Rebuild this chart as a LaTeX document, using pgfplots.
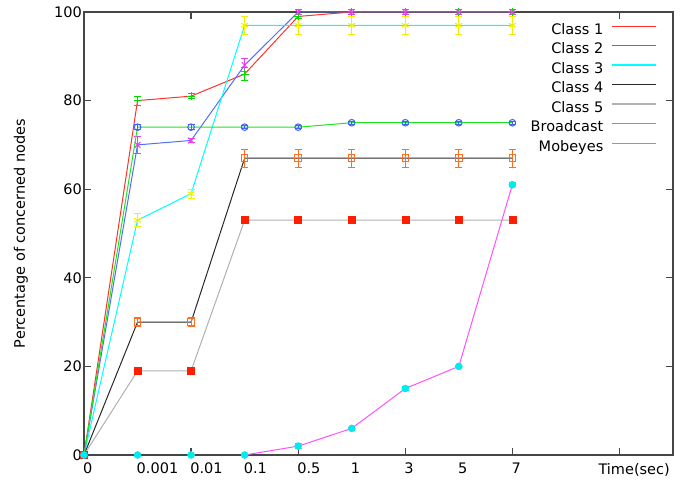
\documentclass[border=0pt]{standalone}
\usepackage{pgfplots}
\pgfplotsset{compat=1.18}
\usepackage{fontspec}
\setmainfont{DejaVu Sans}
\definecolor{cOne}{RGB}{255,50,40}
\definecolor{cTwo}{RGB}{80,110,255}
\definecolor{cThree}{RGB}{0,255,255}
\definecolor{cFour}{RGB}{40,40,40}
\definecolor{cFive}{RGB}{176,176,176}
\definecolor{cBc}{RGB}{30,230,30}
\definecolor{cMob}{RGB}{255,80,255}
\definecolor{mGreen}{RGB}{0,220,0}
\definecolor{mMag}{RGB}{240,60,240}
\definecolor{mYel}{RGB}{240,240,0}
\definecolor{mOrange}{RGB}{255,110,30}
\definecolor{mRed}{RGB}{255,30,0}
\definecolor{mBlue}{RGB}{64,96,255}
\definecolor{mCyan}{RGB}{0,235,235}
\definecolor{axcol}{RGB}{70,70,70}
\begin{document}
\begin{tikzpicture}[font=\fontsize{14.5}{17}\selectfont]
\useasboundingbox (0pt,0pt) rectangle (689pt,481pt);
\begin{axis}[
  at={(84pt,26pt)}, anchor=south west,
  width=589pt, height=443pt, scale only axis,
  xmin=0, xmax=11, ymin=0, ymax=100,
  clip=false,
  axis line style={axcol, line width=1.2pt},
  tick style={axcol, line width=1.2pt},
  tick align=inside,
  major tick length=7pt,
  xtick={0,2,4,6,8,10},
  xticklabels={,,,,,},
  extra x ticks={0,1,2,3,4,5,6,7,8},
  extra x tick labels={0,0.001,0.01,0.1,0.5,1,3,5,7},
  extra x tick style={major tick length=0pt},
  xticklabel style={anchor=north west, inner sep=0pt, xshift=-1pt, yshift=-8pt},
  ytick={0,20,40,60,80,100},
  yticklabel style={anchor=east, inner sep=0pt, xshift=-2pt},
  /pgf/number format/assume math mode=true,
  xlabel={Time(sec)},
  xlabel style={at={(axis description cs:0.934,0)}, anchor=north, inner sep=0pt, yshift=-8pt},
  ylabel={Percentage of concerned nodes},
  ylabel style={at={(axis description cs:-0.107,0.5)}, rotate=0, anchor=center},
  legend style={at={(axis description cs:1,1)}, anchor=north east, xshift=-16pt, yshift=-8.6pt,
    draw=none, fill=none, inner sep=0pt, row sep=0pt, column sep=8pt,
    cells={anchor=east},
    nodes={inner xsep=0pt, inner ysep=2.5pt, text height=11pt, text depth=3.5pt}},
  legend cell align=right,
  legend plot pos=right,
  legend image code/.code={\draw[#1] (0pt,4.5pt) -- (44pt,4.5pt);},
  error bars/error mark=|,
]
% Class 1
\addplot[forget plot, cOne, line width=1pt, mark=+, mark size=4pt, mark options={mGreen, solid, line width=1pt},
  error bars/.cd, y dir=both, y explicit, error bar style={mGreen, line width=1pt},
  error mark options={mGreen, mark size=3.5pt, line width=1pt}]
  table[x=x, y=y, y error=e] {
x y e
0 0 0
1 80 1
2 81 0.5
3 86 1.5
4 99 0.5
5 100 0.5
6 100 0.5
7 100 0.5
8 100 0.5
};
% Class 2
\addplot[forget plot, cTwo, line width=1pt, mark=x, mark size=4pt, mark options={mMag, solid, line width=1pt},
  error bars/.cd, y dir=both, y explicit, error bar style={mMag, line width=1pt},
  error mark options={mMag, mark size=3.5pt, line width=1pt}]
  table[x=x, y=y, y error=e] {
x y e
0 0 0
1 70 2
2 71 0.5
3 88 1.5
4 100 0.5
5 100 0.5
6 100 0.5
7 100 0.5
8 100 0.5
};
% Class 3
\addplot[forget plot, cThree, line width=1pt, mark=asterisk, mark size=4pt, mark options={mYel, solid, line width=1pt},
  error bars/.cd, y dir=both, y explicit, error bar style={mYel, line width=1pt},
  error mark options={mYel, mark size=3.5pt, line width=1pt}]
  table[x=x, y=y, y error=e] {
x y e
0 0 0
1 53 1.5
2 59 1
3 97 2
4 97 2
5 97 2
6 97 2
7 97 2
8 97 2
};
% Class 4
\addplot[forget plot, cFour, line width=1pt, mark=square, mark size=3.2pt, mark options={mOrange, solid, line width=1pt},
  error bars/.cd, y dir=both, y explicit, error bar style={mOrange, line width=1pt},
  error mark options={mOrange, mark size=3.5pt, line width=1pt}]
  table[x=x, y=y, y error=e] {
x y e
0 0 0
1 30 1
2 30 1
3 67 2
4 67 2
5 67 2
6 67 2
7 67 2
8 67 2
};
% Class 5
\addplot[forget plot, cFive, line width=1pt, mark=square*, mark size=3.5pt, mark options={mRed, fill=mRed, solid, line width=0.5pt},
  error bars/.cd, y dir=both, y explicit, error bar style={mRed, line width=1pt},
  error mark options={mRed, mark size=3.5pt, line width=1pt}]
  table[x=x, y=y, y error=e] {
x y e
0 0 0
1 19 0.5
2 19 0.5
3 53 0.5
4 53 0.5
5 53 0.5
6 53 0.5
7 53 0.5
8 53 0.5
};
% Broadcast
\addplot[forget plot, cBc, line width=1pt, mark=o, mark size=3.3pt, mark options={mBlue, solid, line width=1pt},
  error bars/.cd, y dir=both, y explicit, error bar style={mBlue, line width=1pt},
  error mark options={mBlue, mark size=3.5pt, line width=1pt}]
  table[x=x, y=y, y error=e] {
x y e
0 0 0
1 74 0.5
2 74 0.5
3 74 0.3
4 74 0.3
5 75 0.3
6 75 0.3
7 75 0.3
8 75 0.3
};
% Mobeyes: points at 0, 0.001, 0.01 (line there lies on the axis)
\addplot[forget plot, only marks, mark=*, mark size=3.5pt, mark options={mCyan, fill=mCyan, draw=mCyan, solid, line width=0.5pt}]
  table[x=x, y=y] {
x y
0 0
1 0
2 0
};
\addplot[forget plot, cMob, line width=1pt, mark=*, mark size=3.5pt, mark options={mCyan, fill=mCyan, draw=mCyan, solid, line width=0.5pt},
  error bars/.cd, y dir=both, y explicit, error bar style={mCyan, line width=1pt},
  error mark options={mCyan, mark size=3.5pt, line width=1pt}]
  table[x=x, y=y, y error=e] {
x y e
3 0 0
4 2 0.5
5 6 0.3
6 15 0.5
7 20 0.3
8 61 0.5
};
\addlegendimage{cOne, line width=1pt}\addlegendentry{Class 1}
\addlegendimage{cTwo, line width=1.5pt}\addlegendentry{Class 2}
\addlegendimage{cThree, line width=1.2pt}\addlegendentry{Class 3}
\addlegendimage{cFour, line width=1pt}\addlegendentry{Class 4}
\addlegendimage{cFive, line width=1.5pt}\addlegendentry{Class 5}
\addlegendimage{cBc, line width=1pt}\addlegendentry{Broadcast}
\addlegendimage{cMob, line width=1pt}\addlegendentry{Mobeyes}
\end{axis}
\end{tikzpicture}
\end{document}
